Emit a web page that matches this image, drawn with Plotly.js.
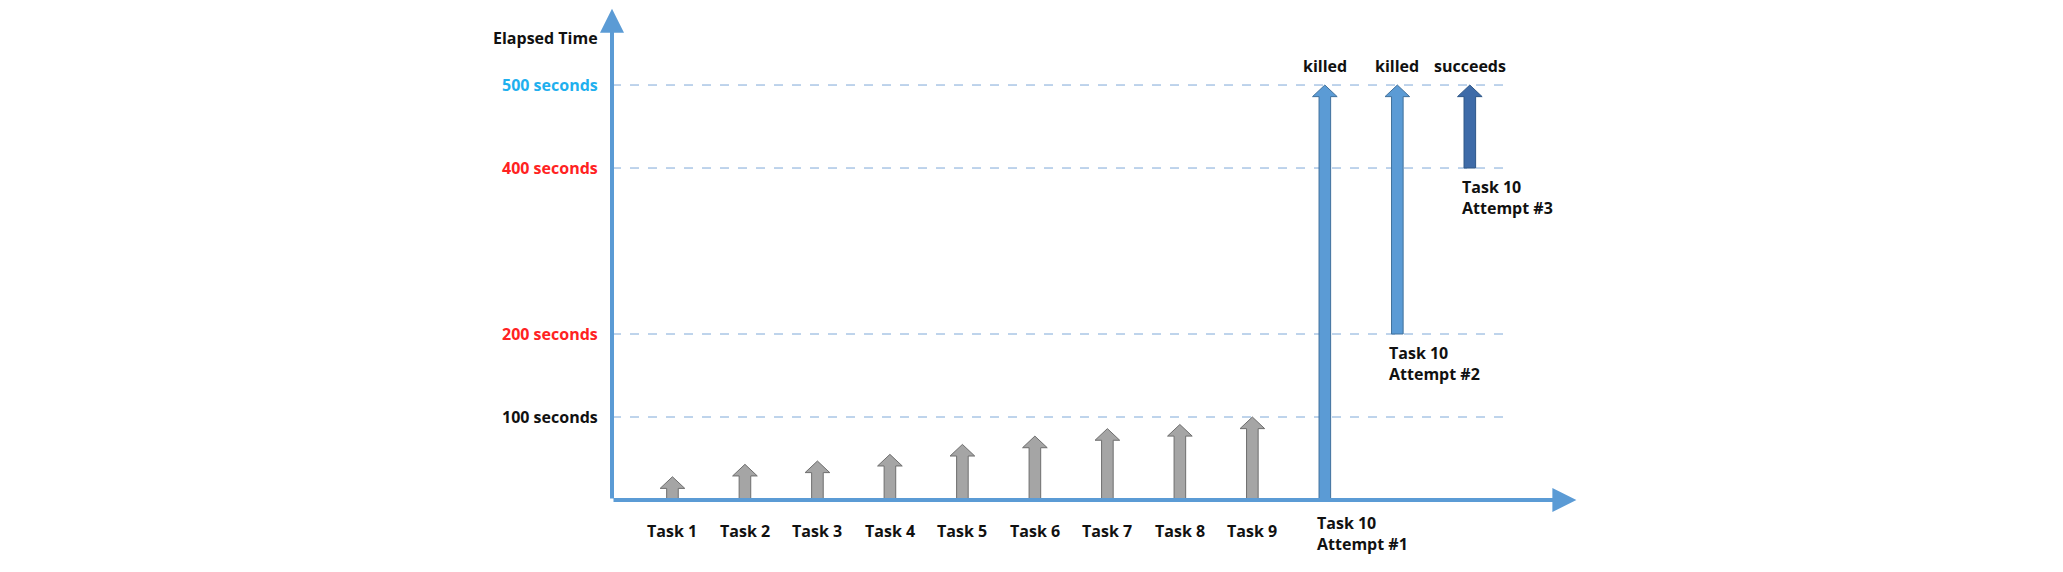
<!DOCTYPE html>
<html>
<head>
<meta charset="utf-8">
<script src="https://cdn.plot.ly/plotly-3.0.1.min.js"></script>
<style>body{margin:0;background:#fff}#chart{width:2063px;height:572px}</style>
</head>
<body>
<div id="chart"></div>
<script>
// arrow positions (slot on x), start and end times (seconds)
var slots = [1, 2, 3, 4, 5, 6, 7, 8, 9, 10, 11, 12];
var starts = [0, 0, 0, 0, 0, 0, 0, 0, 0, 0, 200, 400];
var ends = [28, 43, 47, 55, 67, 77, 86, 91, 100, 500, 500, 500];
var fills = ['#a5a5a5','#a5a5a5','#a5a5a5','#a5a5a5','#a5a5a5','#a5a5a5','#a5a5a5','#a5a5a5','#a5a5a5','#5b9bd5','#5b9bd5','#3e6ba8'];
var edges = ['#6e6e6e','#6e6e6e','#6e6e6e','#6e6e6e','#6e6e6e','#6e6e6e','#6e6e6e','#6e6e6e','#6e6e6e','#41719c','#41719c','#2e5788'];

var taskLabels = ['Task 1','Task 2','Task 3','Task 4','Task 5','Task 6','Task 7','Task 8','Task 9'];
var attemptLabels = ['Task 10<br>Attempt #1','Task 10<br>Attempt #2','Task 10<br>Attempt #3'];
var outcomes = ['killed','killed','succeeds'];

var gridVals = [100, 200, 400, 500];
var gridText = ['100 seconds','200 seconds','400 seconds','500 seconds'];
var gridColors = ['#111111','#ff2222','#ff2222','#1fb0ee'];

var xLeft = 0.166, xRight = 13.52, gridEnd = 12.47;
var sw = 0.08, hw = 0.17, hh = 14;
var font = {family: 'Open Sans, sans-serif', size: 16, color: '#111'};

var data = [];
for (var i = 0; i < slots.length; i++) {
  var c = slots[i], b = starts[i], t = ends[i];
  data.push({
    x: [c - sw, c - sw, c - hw, c, c + hw, c + sw, c + sw, c - sw],
    y: [b, t - hh, t - hh, t, t - hh, t - hh, b, b],
    type: 'scatter', mode: 'lines', fill: 'toself',
    fillcolor: fills[i], line: {color: edges[i], width: 1},
    hoverinfo: 'skip', showlegend: false
  });
}

var shapes = gridVals.map(function (v) {
  return {type: 'line', xref: 'x', yref: 'y', x0: xLeft, x1: gridEnd, y0: v, y1: v,
    line: {color: '#7fa9d8', width: 1, dash: 'dash'}, layer: 'below'};
});

var annotations = [];
// axes with arrow heads
annotations.push({xref: 'x', yref: 'y', axref: 'x', ayref: 'y', x: xRight - 0.05, y: 0, ax: xLeft, ay: 0,
  showarrow: true, arrowhead: 2, arrowsize: 1.2, arrowwidth: 4, arrowcolor: '#5b9bd5', text: ''});
annotations.push({xref: 'x', yref: 'y', axref: 'x', ayref: 'y', x: xLeft, y: 592, ax: xLeft, ay: 0,
  showarrow: true, arrowhead: 2, arrowsize: 1.2, arrowwidth: 4, arrowcolor: '#5b9bd5', text: ''});
gridVals.forEach(function (v, i) {
  annotations.push({xref: 'paper', yref: 'y', x: 0, y: v, xanchor: 'right', xshift: -12, showarrow: false,
    text: '<b>' + gridText[i] + '</b>', font: {family: font.family, size: 16, color: gridColors[i]}});
});
annotations.push({xref: 'paper', yref: 'y', x: 0, y: 557, xanchor: 'right', xshift: -12, showarrow: false,
  text: '<b>Elapsed Time</b>', font: font});
taskLabels.forEach(function (s, i) {
  annotations.push({xref: 'x', yref: 'y', x: slots[i], y: 0, yanchor: 'top', yshift: -18, showarrow: false,
    text: '<b>' + s + '</b>', font: font});
});
attemptLabels.forEach(function (s, i) {
  var k = 9 + i;
  annotations.push({xref: 'x', yref: 'y', x: slots[k] - 0.14, y: starts[k], xanchor: 'left', yanchor: 'top',
    yshift: i === 0 ? -10 : -6, align: 'left', showarrow: false, text: '<b>' + s + '</b>', font: font});
  annotations.push({xref: 'x', yref: 'y', x: slots[k], y: ends[k], yanchor: 'bottom', yshift: 6,
    showarrow: false, text: '<b>' + outcomes[i] + '</b>', font: font});
});

var layout = {
  width: 2063, height: 572,
  margin: {l: 612, r: 2063 - 1580, t: 7, b: 69},
  paper_bgcolor: '#fff', plot_bgcolor: '#fff',
  xaxis: {range: [xLeft, xRight], visible: false, fixedrange: true},
  yaxis: {range: [-3.6, 594], visible: false, fixedrange: true},
  shapes: shapes, annotations: annotations, showlegend: false
};

Plotly.newPlot('chart', data, layout, {displayModeBar: false, staticPlot: true});
</script>
</body>
</html>
